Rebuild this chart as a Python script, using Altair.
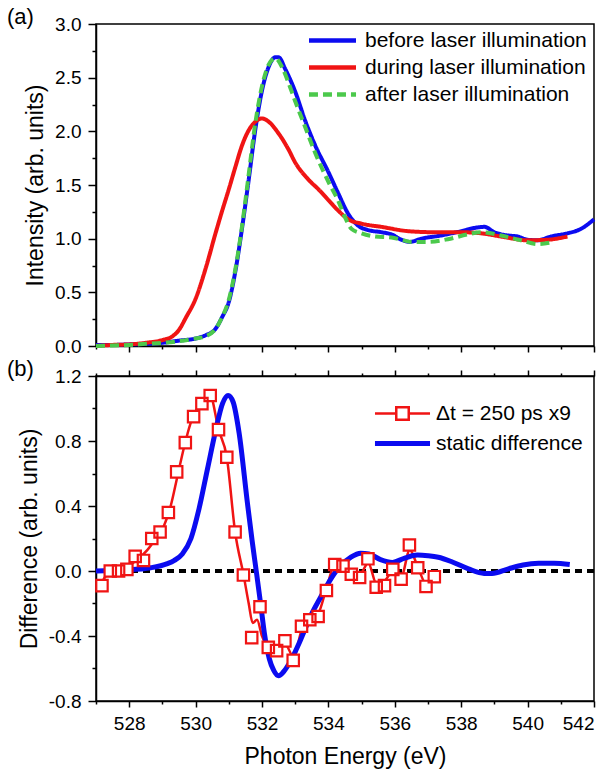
import altair as alt
import pandas as pd

FONT = "Liberation Sans"
BLUE = "#0b0bf0"
RED = "#f01414"
GREEN = "#4cc94c"

# ---------------- (a) spectra ----------------
before_E = [527.0, 527.5, 528.0, 528.5, 529.0, 529.5, 530.0, 530.3, 530.6, 530.8, 531.0, 531.2, 531.4, 531.6, 531.8,
            532.0, 532.2, 532.4, 532.5, 532.7, 533.0, 533.3, 533.6, 534.0, 534.3, 534.6, 534.9, 535.2, 535.6, 535.9,
            536.2, 536.45, 536.8, 537.4, 538.0, 538.4, 538.7, 539.0, 539.4, 539.7, 540.0, 540.3, 540.7, 541.2, 541.6, 542.0]
before_I = [0.01, 0.01, 0.015, 0.02, 0.03, 0.05, 0.07, 0.10, 0.16, 0.27, 0.41, 0.70, 1.10, 1.55, 2.02,
            2.38, 2.60, 2.69, 2.69, 2.58, 2.37, 2.10, 1.87, 1.62, 1.42, 1.23, 1.12, 1.08, 1.06, 1.04,
            0.99, 0.97, 1.00, 1.03, 1.07, 1.10, 1.11, 1.06, 1.03, 1.02, 0.99, 0.985, 1.02, 1.05, 1.09, 1.18]

during_E = [527.0, 527.5, 528.0, 528.5, 529.0, 529.3, 529.5, 529.7, 530.0, 530.3, 530.6, 530.8, 531.0, 531.2, 531.4,
            531.6, 531.8, 532.0, 532.2, 532.5, 532.8, 533.0, 533.4, 533.7, 534.0, 534.3, 534.6, 535.0, 535.6, 536.4,
            537.2, 538.0, 538.6, 539.2, 540.0, 540.6, 541.2]
during_I = [0.0, 0.01, 0.015, 0.03, 0.055, 0.09, 0.15, 0.26, 0.44, 0.72, 1.05, 1.26, 1.46, 1.67, 1.87,
            2.01, 2.09, 2.12, 2.09, 1.98, 1.83, 1.71, 1.55, 1.46, 1.36, 1.26, 1.18, 1.14, 1.11, 1.07,
            1.06, 1.06, 1.05, 1.02, 0.985, 0.99, 1.02]

after_E = [527.0, 527.5, 528.0, 528.5, 529.0, 529.5, 530.0, 530.3, 530.6, 530.8, 531.0, 531.2, 531.4, 531.6, 531.8,
           532.0, 532.2, 532.4, 532.6, 532.8, 533.0, 533.3, 533.6, 534.0, 534.3, 534.5, 534.7, 535.0, 535.4, 535.9,
           536.2, 536.5, 537.0, 537.6, 538.2, 538.6, 539.2, 539.8, 540.3, 540.8]
after_I = [0.0, 0.005, 0.01, 0.02, 0.03, 0.045, 0.07, 0.09, 0.16, 0.27, 0.43, 0.72, 1.12, 1.60, 2.08,
           2.42, 2.62, 2.68, 2.60, 2.45, 2.28, 2.04, 1.80, 1.53, 1.35, 1.20, 1.09, 1.05, 1.02, 1.01,
           0.99, 0.97, 0.97, 0.995, 1.04, 1.06, 1.03, 0.985, 0.95, 0.97]

top_names = ["before laser illumination", "during laser illumination", "after laser illumination"]

# ---------------- (b) differences ----------------
dt_E = [527.18, 527.43, 527.68, 527.93, 528.18, 528.43, 528.68, 528.93, 529.18, 529.43,
        529.69, 529.94, 530.19, 530.44, 530.69, 530.94, 531.19, 531.44, 531.69, 531.94,
        532.19, 532.44, 532.69, 532.94, 533.19, 533.44, 533.69, 533.94, 534.19, 534.44,
        534.69, 534.94, 535.19, 535.44, 535.69, 535.94, 536.19, 536.44, 536.69, 536.94, 537.19]
dt_D = [-0.09, 0.0, 0.0, 0.01, 0.09, 0.065, 0.20, 0.24, 0.36, 0.61,
        0.79, 0.95, 1.03, 1.08, 0.87, 0.70, 0.24, -0.025, -0.41, -0.22,
        -0.47, -0.49, -0.43, -0.55, -0.34, -0.30, -0.28, -0.12, 0.04, 0.03,
        -0.02, -0.04, 0.075, -0.10, -0.09, 0.01, -0.05, 0.16, 0.02, -0.095, -0.035]

fit_E = [527.10, 527.30, 527.55, 527.80, 528.05, 528.30, 528.55, 528.80, 529.05, 529.25,
         529.45, 529.65, 529.85, 530.05, 530.25, 530.45, 530.69, 530.94, 531.19, 531.45,
         531.60, 531.72, 531.85, 532.00, 532.20, 532.45, 532.70, 532.95, 533.20, 533.45,
         533.70, 533.95, 534.20, 534.45, 534.70, 534.95, 535.20, 535.45, 535.70, 535.95,
         536.20, 536.45, 536.70, 536.95, 537.20]
fit_D = [-0.10, -0.03, 0.00, 0.01, 0.04, 0.08, 0.13, 0.20, 0.28, 0.40,
         0.58, 0.76, 0.91, 1.00, 1.05, 1.07, 0.87, 0.70, 0.24, -0.03,
         -0.20, -0.32, -0.30, -0.40, -0.47, -0.49, -0.45, -0.53, -0.36, -0.30,
         -0.26, -0.10, 0.04, 0.02, -0.02, -0.02, 0.05, -0.08, -0.06, 0.00,
         -0.03, 0.13, 0.02, -0.08, -0.03]

st_E = [527.0, 527.85, 528.65, 529.15, 529.35, 529.6, 529.86, 530.1, 530.36, 530.61,
        530.81, 530.98, 531.13, 531.31, 531.56, 531.70, 531.84, 531.97, 532.07, 532.22,
        532.35, 532.50, 532.65, 532.87, 533.17, 533.47, 533.77, 534.07, 534.37, 534.67,
        534.97, 535.22, 535.57, 535.93, 536.28, 536.68, 537.0, 537.31, 537.75, 538.22,
        538.69, 538.93, 539.4, 539.86, 540.33, 540.8, 541.27]
st_D = [0.0, 0.006, 0.02, 0.045, 0.064, 0.105, 0.20, 0.38, 0.63, 0.87,
        1.03, 1.08, 1.04, 0.85, 0.42, 0.19, -0.02, -0.22, -0.38, -0.54,
        -0.61, -0.645, -0.62, -0.55, -0.42, -0.275, -0.16, -0.05, 0.033, 0.084,
        0.11, 0.105, 0.07, 0.053, 0.078, 0.098, 0.094, 0.085, 0.054, 0.013,
        -0.015, -0.015, 0.012, 0.037, 0.047, 0.047, 0.04]

bottom_names = ["\u0394t = 250 ps x9", "static difference"]

x_ticks = [527, 528, 529, 530, 531, 532, 533, 534, 535, 536, 537, 538, 539, 540, 541, 542]
top_y_ticks = [0.0, 0.25, 0.5, 0.75, 1.0, 1.25, 1.5, 1.75, 2.0, 2.25, 2.5, 2.75, 3.0]
bot_y_ticks = [-0.8, -0.6, -0.4, -0.2, 0.0, 0.2, 0.4, 0.6, 0.8, 1.0, 1.2]

# ---------------- tables ----------------
top_df = pd.concat([
    pd.DataFrame({"E": before_E, "I": before_I, "series": top_names[0]}),
    pd.DataFrame({"E": during_E, "I": during_I, "series": top_names[1]}),
    pd.DataFrame({"E": after_E, "I": after_I, "series": top_names[2]}),
], ignore_index=True)
top_df["order"] = range(len(top_df))

pts_df = pd.DataFrame({"E": dt_E, "D": dt_D, "series": bottom_names[0]})
fit_df = pd.DataFrame({"E": fit_E, "D": fit_D, "series": bottom_names[0]})
st_df = pd.DataFrame({"E": st_E, "D": st_D, "series": bottom_names[1]})

# ---------------- helpers ----------------
X_MAJOR = "datum.value % 2 === 0"
TOPY_MAJOR = "abs(datum.value*2 - round(datum.value*2)) < 0.001"
BOTY_MAJOR = "abs(datum.value/0.4 - round(datum.value/0.4)) < 0.001"


def tsize(test, major, minor):
    return {"condition": {"test": test, "value": major}, "value": minor}


def lab(test):
    return f"({test}) ? ((datum.value < -0.0001 ? '-' : '') + format(abs(datum.value), '.1f')) : ''"


xscale = alt.Scale(domain=[527, 542], nice=False, zero=False)
W = 498

# legend glyphs: symbolSize 256 -> unit = 8 px, so the paths below reach beyond the unit box
LINE_47 = "M-2.94,0H2.94"
LINE_55 = "M-3.44,0H3.44"
SQ_LINE_55 = "M-3.44,0H-0.78M0.78,0H3.44M-0.78,-0.78H0.78V0.78H-0.78Z"

# ---------------- panel (a) ----------------
top_legend = alt.Legend(title=None, orient="none", legendX=226, legendY=6, symbolType=LINE_47,
                        symbolSize=256, symbolStrokeWidth=4.5, labelFontSize=21, labelFont=FONT,
                        labelColor="black", rowPadding=5, labelOffset=22, padding=0, labelLimit=0)

top = alt.Chart(top_df).mark_line(strokeWidth=4, interpolate="monotone").encode(
    x=alt.X("E:Q", scale=xscale,
            axis=alt.Axis(values=x_ticks, labels=False, title=None, tickSize=tsize(X_MAJOR, 6, 3))),
    y=alt.Y("I:Q", scale=alt.Scale(domain=[0, 3], nice=False),
            axis=alt.Axis(values=top_y_ticks, labelExpr=lab(TOPY_MAJOR), tickSize=tsize(TOPY_MAJOR, 8, 4),
                          labelPadding=7, title="Intensity (arb. units)")),
    color=alt.Color("series:N", scale=alt.Scale(domain=top_names, range=[BLUE, RED, GREEN]), legend=top_legend),
    strokeDash=alt.StrokeDash("series:N", scale=alt.Scale(domain=top_names, range=[[1, 0], [1, 0], [9, 5]]),
                              legend=top_legend),
    order="order:Q",
).properties(
    width=W, height=322,
    title=alt.TitleParams("(a)", anchor="start", frame="group", dx=-89, dy=14, fontSize=22,
                          fontWeight="normal", font=FONT, color="black", offset=0),
)

# ---------------- panel (b) ----------------
bot_legend = alt.Legend(
    title=None, orient="none", legendX=296, legendY=27, symbolSize=256, labelFontSize=21, labelFont=FONT,
    labelColor="black", rowPadding=7, labelOffset=23, padding=0, labelLimit=0,
    symbolType=alt.ExprRef(expr=f"datum.value === 'static difference' ? '{LINE_55}' : '{SQ_LINE_55}'"),
    symbolStrokeWidth=alt.ExprRef(expr="datum.value === 'static difference' ? 5 : 2.5"),
    symbolFillColor="white",
)
bcolor = alt.Color("series:N", scale=alt.Scale(domain=bottom_names, range=[RED, BLUE]), legend=bot_legend)
byscale = alt.Scale(domain=[-0.8, 1.2], nice=False)
byaxis = alt.Axis(values=bot_y_ticks, labelExpr=lab(BOTY_MAJOR), tickSize=tsize(BOTY_MAJOR, 8, 4),
                  labelPadding=7, title="Difference (arb. units)")

zero = alt.Chart(st_df).mark_rule(color="black", strokeWidth=2.5, strokeDash=[7, 5]).encode(
    y=alt.datum(0, scale=byscale, axis=byaxis),
)

fit_line = alt.Chart(fit_df).mark_line(strokeWidth=2.5, interpolate="monotone").encode(
    x=alt.X("E:Q", scale=xscale,
            axis=alt.Axis(values=x_ticks, labels=False, title=None, orient="top",
                          tickSize=tsize(X_MAJOR, 6, 3))),
    y=alt.Y("D:Q", scale=byscale, axis=byaxis),
    color=bcolor,
)

static_line = alt.Chart(st_df).mark_line(strokeWidth=5, interpolate="monotone").encode(
    x=alt.X("E:Q", scale=xscale,
            axis=alt.Axis(values=x_ticks, labelExpr="datum.value % 2 === 0 ? datum.label : ''",
                          title="Photon Energy (eV)", orient="bottom", tickSize=tsize(X_MAJOR, 6, 3),
                          labelPadding=7, titlePadding=12)),
    y=alt.Y("D:Q", scale=byscale, axis=byaxis),
    color=bcolor,
)

pts_bg = alt.Chart(pts_df).mark_point(shape="square", size=130, filled=True, color="white", opacity=1).encode(
    x=alt.X("E:Q", scale=xscale, axis=None),
    y=alt.Y("D:Q", scale=byscale, axis=byaxis),
)

pts = alt.Chart(pts_df).mark_point(shape="square", size=130, filled=False, strokeWidth=2.2, opacity=1).encode(
    x=alt.X("E:Q", scale=xscale, axis=None),
    y=alt.Y("D:Q", scale=byscale, axis=byaxis),
    color=bcolor,
)

bottom = alt.layer(zero, fit_line, static_line, pts_bg, pts).resolve_axis(x="independent").properties(
    width=W, height=325,
    title=alt.TitleParams("(b)", anchor="start", frame="group", dx=-89, dy=14, fontSize=22,
                          fontWeight="normal", font=FONT, color="black", offset=0),
)

chart = alt.vconcat(top, bottom, spacing=30, bounds="flush").resolve_scale(
    color="independent", strokeDash="independent"
).properties(
    padding={"left": 6, "top": 5, "right": 0, "bottom": 0}
).configure_view(
    stroke="black", strokeWidth=1.5
).configure_axis(
    domainColor="black", domainWidth=1.5, tickColor="black", tickWidth=1.5,
    labelFont=FONT, labelFontSize=19, labelColor="black",
    titleFont=FONT, titleFontSize=23, titleFontWeight="normal", titleColor="black",
    titlePadding=7, grid=False,
)

chart.save("out.html", embed_options={"renderer": "svg", "actions": False})
